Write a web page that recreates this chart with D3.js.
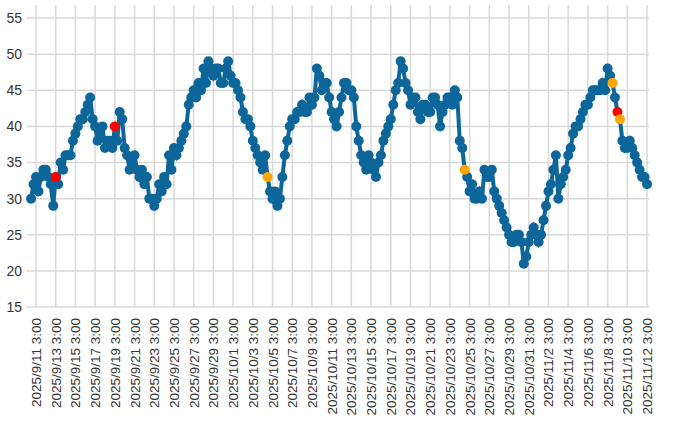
<!DOCTYPE html>
<html>
<head>
<meta charset="utf-8">
<script src="https://cdn.jsdelivr.net/npm/d3@7"></script>
<style>
  body { margin: 0; background: #fff; }
  text { font-family: "Liberation Sans", Arial, sans-serif; fill: #333; }
</style>
</head>
<body>
<svg id="chart" width="700" height="430"></svg>
<script>
// readings every 6 hours, from 2025/9/10 15:00
var startTime = "2025-09-10T15:00:00";
var stepHours = 6;
var values = [30,32,
  33,31,33,34, 34,33,32,29, 33,32,35,34, 36,36,36,38, 39,40,41,41,
  42,43,44,41, 40,38,39,40, 37,38,38,37, 40,38,42,41, 37,36,34,35,
  36,34,33,34, 32,33,30,30, 29,30,32,31, 33,32,36,34, 37,36,37,38,
  39,40,43,44, 45,44,46,45, 48,46,49,48, 47,48,48,46, 46,48,49,47,
  46,46,45,44, 42,41,41,40, 38,37,36,35, 34,36,33,31, 30,31,29,30,
  33,36,38,40, 41,41,42,42, 43,42,42,44, 43,44,48,47, 45,46,46,44,
  42,41,40,42, 44,46,46,45, 45,44,40,38, 36,35,34,36, 35,34,33,35,
  36,38,39,40, 41,43,45,46, 49,48,46,45, 43,44,44,42, 41,43,43,42,
  42,44,44,43, 40,42,43,44, 44,43,45,44, 38,37,34,33, 31,32,30,30,
  31,30,34,33, 33,34,31,30, 29,28,27,26, 25,24,24,25, 25,24,21,22,
  24,25,26,25, 24,25,27,29, 31,32,34,36, 30,32,33,34, 36,37,39,40,
  40,41,42,43, 43,44,45,45, 45,45,46,45, 48,47,46,44, 42,41,38,37,
  37,38,37,36, 35,34,33,33, 32];
// highlighted readings (by index)
var redPoints = [10, 34, 238];
var orangePoints = [96, 176, 236, 239];
var yTicks = [15, 20, 25, 30, 35, 40, 45, 50, 55];
var firstLabel = "2025-09-11T03:00:00", labelCount = 32, labelStep = 2; // days

var svg = d3.select("#chart");
var t0 = d3.isoParse(startTime);
var data = values.map((v, i) => ({ t: d3.timeHour.offset(t0, i * stepHours), v: v, i: i }));

var day = 24 * 3600 * 1000;
var l0 = d3.isoParse(firstLabel);
var labels = d3.range(labelCount).map(i => d3.timeDay.offset(l0, i * labelStep));

var x = d3.scaleTime()
  .domain([new Date(+l0 - 0.81 * day), new Date(+l0 + 62.2 * day)])
  .range([28, 649]);
var y = d3.scaleLinear().domain([15, 55]).range([307, 18]);

// grid
svg.append("g").selectAll("line").data(yTicks).join("line")
  .attr("x1", 27).attr("x2", 649)
  .attr("y1", d => y(d)).attr("y2", d => y(d))
  .attr("stroke", "#d9d9d9").attr("stroke-width", 1.5);
svg.append("g").selectAll("line").data(labels).join("line")
  .attr("x1", d => x(d)).attr("x2", d => x(d))
  .attr("y1", 5).attr("y2", 307)
  .attr("stroke", "#d9d9d9").attr("stroke-width", 1.5);

// y labels
svg.append("g").selectAll("text").data(yTicks).join("text")
  .attr("x", 22).attr("y", d => y(d)).attr("dy", "0.35em")
  .attr("text-anchor", "end").attr("font-size", 14)
  .text(d => d);

// x labels
var fmt = d => (d.getFullYear() + "/" + (d.getMonth() + 1) + "/" + d.getDate() + " " + d.getHours() + ":00");
svg.append("g").selectAll("text").data(labels).join("text")
  .attr("transform", d => "translate(" + (x(d) + 5) + ",318) rotate(-90)")
  .attr("text-anchor", "end").attr("font-size", 13.5)
  .text(fmt);

// line + markers
var color = "#0d6699";
svg.append("path").datum(data)
  .attr("fill", "none").attr("stroke", color).attr("stroke-width", 4)
  .attr("d", d3.line().x(d => x(d.t)).y(d => y(d.v)));

var pointColor = d => redPoints.includes(d.i) ? "#ff0000" : orangePoints.includes(d.i) ? "#ffa500" : color;
svg.append("g").selectAll("circle")
  .data(data.slice().sort((a, b) => (pointColor(a) !== color) - (pointColor(b) !== color)))
  .join("circle")
  .attr("cx", d => x(d.t)).attr("cy", d => y(d.v)).attr("r", 5)
  .attr("fill", pointColor);
</script>
</body>
</html>
